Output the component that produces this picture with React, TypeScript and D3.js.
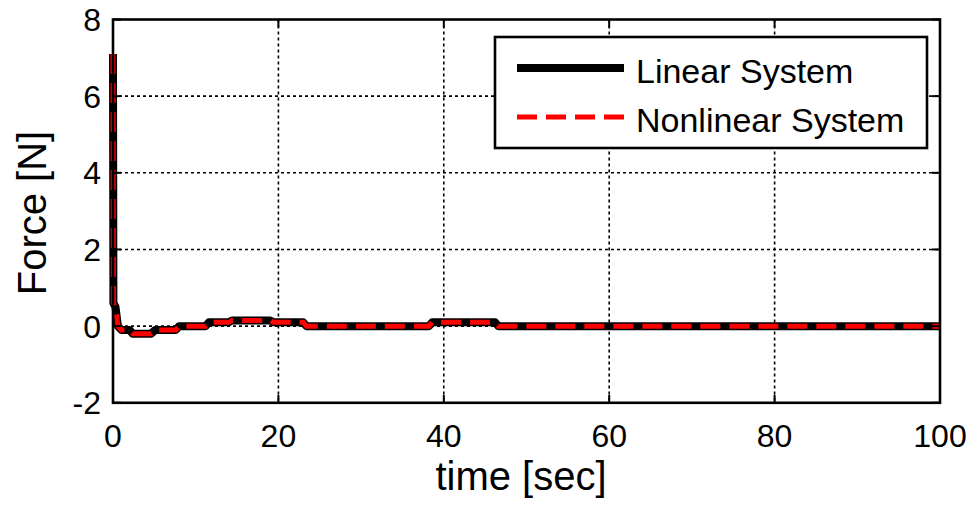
import React from "react";
import * as d3 from "d3";

const timeSec = [0, 0.05, 0.3, 0.6, 1.0, 2.0, 2.4, 4.6, 5.1, 7.6, 8.0, 11.2, 11.6, 14.0, 14.4, 19.0, 19.4, 23.0, 23.4, 38.2, 38.6, 46.2, 46.6, 100];
const forceLinear = [7.1, 0.6, 0.5, 0.0, -0.1, -0.1, -0.2, -0.2, -0.1, -0.1, 0.0, 0.0, 0.1, 0.1, 0.15, 0.15, 0.1, 0.1, 0.0, 0.0, 0.1, 0.1, 0.0, 0.0];
const forceNonlinear = [7.1, 0.6, 0.5, 0.0, -0.1, -0.1, -0.2, -0.2, -0.1, -0.1, 0.0, 0.0, 0.1, 0.1, 0.15, 0.15, 0.1, 0.1, 0.0, 0.0, 0.1, 0.1, 0.0, 0.0];
const xTicks = [0, 20, 40, 60, 80, 100];
const yTicks = [-2, 0, 2, 4, 6, 8];
const seriesNames = ["Linear System", "Nonlinear System"];

const W = 971, H = 507;
const L = 113, R = 940, T = 19.5, B = 402.8;
const FONT = "'Liberation Sans', Arial, sans-serif";

export default function App() {
  const x = d3.scaleLinear().domain([0, 100]).range([L, R]);
  const y = d3.scaleLinear().domain([-2, 8]).range([B, T]);
  const line = d3.line<number>().x((_, i) => x(timeSec[i])).y((d) => y(d));
  const tl = 8;
  return (
    <svg width={W} height={H} style={{ position: "absolute", left: 0, top: 0, background: "#fff" }}>
      <defs>
        <clipPath id="pc">
          <rect x={L - 4} y={T} width={R - L + 4} height={B - T} />
        </clipPath>
      </defs>
      <rect x={L} y={T} width={R - L} height={B - T} fill="#fff" />
      {xTicks.slice(1, -1).map((t) => (
        <line key={"gx" + t} x1={x(t)} x2={x(t)} y1={T} y2={B} stroke="#000" strokeWidth={1.6} strokeDasharray="3,3" />
      ))}
      {yTicks.slice(1, -1).map((t) => (
        <line key={"gy" + t} x1={L} x2={R} y1={y(t)} y2={y(t)} stroke="#000" strokeWidth={1.6} strokeDasharray="3,3" />
      ))}
      <g clipPath="url(#pc)">
        <path d={line(forceLinear) || ""} fill="none" stroke="#000" strokeWidth={8} strokeLinejoin="round" />
        <path d={line(forceNonlinear) || ""} fill="none" stroke="#ff0000" strokeWidth={5} strokeDasharray="20,9" />
      </g>
      {xTicks.map((t) => (
        <g key={"tx" + t}>
          <line x1={x(t)} x2={x(t)} y1={B} y2={B - tl} stroke="#000" strokeWidth={2} />
          <line x1={x(t)} x2={x(t)} y1={T} y2={T + tl} stroke="#000" strokeWidth={2} />
          <text x={x(t)} y={447} fontFamily={FONT} fontSize={32} textAnchor="middle">{t}</text>
        </g>
      ))}
      {yTicks.map((t) => (
        <g key={"ty" + t}>
          <line x1={L} x2={L + tl} y1={y(t)} y2={y(t)} stroke="#000" strokeWidth={2} />
          <line x1={R} x2={R - tl} y1={y(t)} y2={y(t)} stroke="#000" strokeWidth={2} />
          <text x={101} y={y(t)} dy="0.36em" fontFamily={FONT} fontSize={32} textAnchor="end">{t}</text>
        </g>
      ))}
      <rect x={L} y={T} width={R - L} height={B - T} fill="none" stroke="#000" strokeWidth={2.6} />
      <text x={521} y={490} fontFamily={FONT} fontSize={40} textAnchor="middle">time [sec]</text>
      <text transform={`translate(46,213) rotate(-90)`} fontFamily={FONT} fontSize={40} textAnchor="middle">Force [N]</text>
      <rect x={495} y={37} width={432} height={111} fill="#fff" stroke="#000" strokeWidth={2.6} />
      <line x1={517} x2={624} y1={68} y2={68} stroke="#000" strokeWidth={8} />
      <line x1={517} x2={624} y1={117} y2={117} stroke="#ff0000" strokeWidth={5} strokeDasharray="20,9" />
      <text x={636} y={82.5} fontFamily={FONT} fontSize={34}>{seriesNames[0]}</text>
      <text x={636} y={131.5} fontFamily={FONT} fontSize={34}>{seriesNames[1]}</text>
    </svg>
  );
}
